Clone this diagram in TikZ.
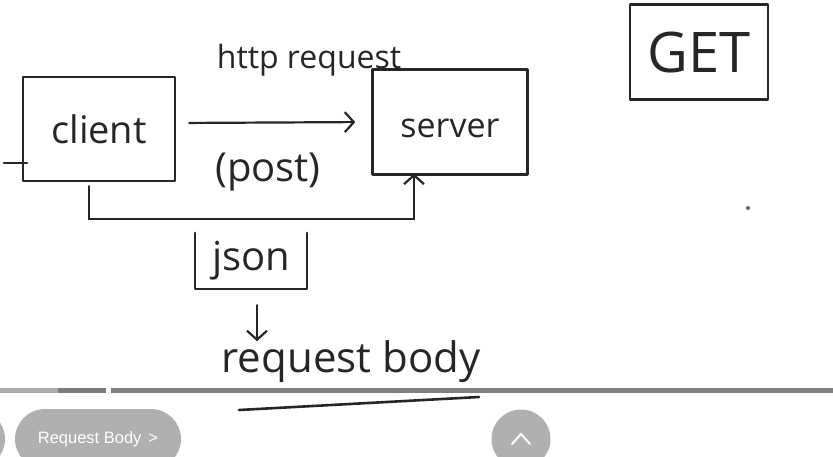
\documentclass[tikz,border=0pt]{standalone}
\usepackage{fontspec}
\setmainfont{Open Sans}
\newfontfamily\uifont{Liberation Sans}
\usetikzlibrary{arrows.meta,positioning}

\tikzset{
  sketch/.style={draw=black!85, line width=2.4pt, line cap=round, line join=round},
  box/.style={sketch, inner sep=0pt},
  hand/.style={text=black!85, font=\fontsize{#1}{#1}\selectfont},
  arr/.style={draw=black!85, line width=2.2pt, line cap=round,
    -{Straight Barb[length=9pt,width=20pt,line width=2.2pt]}},
  uibtn/.style={fill=black!31, text=white, font=\uifont\fontsize{16.5}{16.5}\selectfont},
}

\begin{document}
\begin{tikzpicture}[x=1pt,y=-1pt]
        \useasboundingbox (0,0) rectangle (833,456);
        \clip (0,0) rectangle (833,456);

        % Draw the boxes
        \node[box, minimum width=152pt, minimum height=104pt, hand=38] (client) at (99,129) {client};
        \node[box, minimum width=155pt, minimum height=105pt, hand=34] (server) at (450,122) {\raisebox{-6pt}[\height][\depth]{server}};
        \node[box, minimum width=138pt, minimum height=95pt, hand=56] (get) at (699,52) {GET};
        \draw[sketch] (4,163) -- (27,163);

        % Request from client to server
        \draw[arr, shorten <=13pt, shorten >=16pt] ([yshift=6pt]client.east) -- (server.west);
        \node[hand=32] (req) at (309,60) {http request};
        \node[hand=40] (post) at (268,172) {(post)};

        % Body sent along with the request
        \draw[arr] ([xshift=-10pt,yshift=-4pt]client.south) -- ++(0,33) -| ([xshift=-36pt,yshift=2pt]server.south);
        \node[hand=40, minimum width=112pt, minimum height=56pt] (json) at (251,261) {json};
        \draw[sketch] (json.north west) |- (json.south east) -- (json.north east);
        \draw[arr] ([xshift=6pt,yshift=-16pt]json.south) -- ++(0,36);
        \node[hand=42] (body) at (351,362) {request body};
        \draw[sketch, line width=2.6pt] (239,410) -- (479,397);

        % Stray dot
        \fill[black!60] (748,208) circle (2pt);

        % Player controls
        \fill[black!33] (0,388) rectangle (58,393);
        \fill[black!52] (58,388) rectangle (106,393);
        \fill[black!50] (111,388) rectangle (833,393);
        \fill[black!31] (-25,439) circle (30pt);
        \node[uibtn, rounded corners=30pt, minimum width=166pt, minimum height=60pt] (btn) at (98,439) {Request Body\hspace{7pt}>};
        \node[uibtn, circle, minimum size=59pt] (up) at (521,439) {};
        \draw[white, line width=2pt, line cap=round] ([xshift=-9pt,yshift=-5pt]up.center) -- ([yshift=5pt]up.center) -- ([xshift=9pt,yshift=-5pt]up.center);
\end{tikzpicture}
\end{document}
